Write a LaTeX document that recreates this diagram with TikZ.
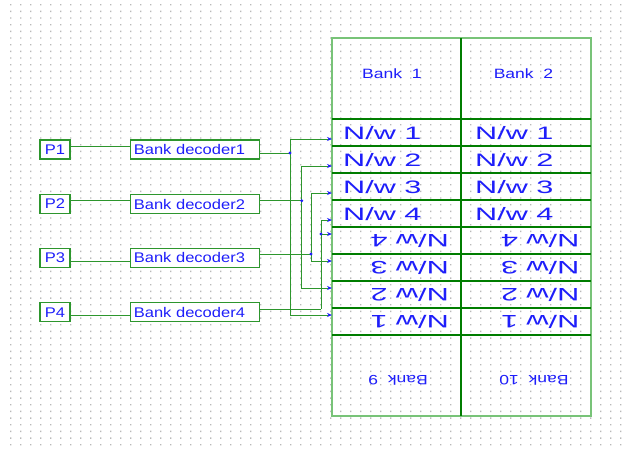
\documentclass[tikz,border=0pt]{standalone}
\usepackage{fontspec}
\setmainfont{Liberation Sans}
\newfontfamily\lblfont{Liberation Sans}[FakeStretch=1.18]
\newfontfamily\banklblfont{Liberation Sans}[FakeStretch=1.3]
\newfontfamily\nwfont{Liberation Sans}[FakeStretch=1.7]
\usetikzlibrary{arrows.meta}
\definecolor{txtblue}{RGB}{30,30,250}
\definecolor{wiregreen}{RGB}{45,150,45}
\definecolor{rowgreen}{RGB}{0,125,0}
\definecolor{edgegreen}{RGB}{120,195,120}
\definecolor{gridgray}{RGB}{185,185,185}
\begin{document}
\begin{tikzpicture}[x=1pt,y=-1pt,
  pbox/.style={draw=wiregreen,line width=1.3pt,fill=white,text=txtblue,font=\lblfont\fontsize{14}{14}\selectfont,minimum width=30pt,minimum height=19pt,inner sep=0pt},
  decbox/.style={draw=wiregreen,line width=1.3pt,fill=white,text=txtblue,font=\lblfont\fontsize{14}{14}\selectfont,text width=123pt,align=left,minimum height=19pt,inner sep=3pt},
  banklbl/.style={text=txtblue,font=\banklblfont\fontsize{13.5}{13.5}\selectfont,inner sep=0pt},
  nwup/.style={anchor=base west,inner sep=0pt,text=txtblue,font=\nwfont\fontsize{18}{18}\selectfont},
  nwdn/.style={nwup,rotate=180},
  wire/.style={draw=wiregreen,line width=1pt},
  feed/.style={-{Stealth[length=5pt,width=4pt,color=txtblue]}},
  joint/.style={circle,fill=txtblue,inner sep=0pt,minimum size=3.2pt}]
  \fill[white] (0,0) rectangle (626,450);
  \useasboundingbox (0,0) rectangle (626,450);
  \fill[gridgray] \foreach \i in {0,...,61}{\foreach \j in {0,...,66}{(10+10*\i,4+6.667*\j) rectangle ++(1.4,1.4)}};
  \draw[edgegreen,line width=1.2pt] (332,38) rectangle (591,416);
  \foreach \y in {119,146,...,335} \draw[rowgreen,line width=1.5pt] (332,\y) -- (591,\y);
  \draw[rowgreen,line width=1.5pt] (461,38) -- (461,416);
  \node[banklbl] (bk1) at (392,74){Bank~~1};
  \node[banklbl] (bk2) at (523.5,74){Bank~~2};
  \node[banklbl,rotate=180] (bk9) at (398,380.5){Bank~~9};
  \node[banklbl,rotate=180] (bk10) at (534,380.5){Bank~~10};
  \foreach \k in {1,...,4}{
    \node[nwup] (nwl\k) at (343,112+27*\k){N/w \k};
    \node[nwup] (nwr\k) at (475,112+27*\k){N/w \k};
    \node[nwdn] (nfl\k) at (449,342-27*\k){N/w \k};
    \node[nwdn] (nfr\k) at (579.5,342-27*\k){N/w \k};
  }
  \node[pbox] (p1) at (55,149.5){P1};
  \node[pbox] (p2) at (55,204){P2};
  \node[pbox] (p3) at (55,257.8){P3};
  \node[pbox] (p4) at (55,312.2){P4};
  \node[decbox] (dec1) at (195.3,149.5){Bank decoder1};
  \node[decbox] (dec2) at (195.3,204){Bank decoder2};
  \node[decbox] (dec3) at (195.3,257.8){Bank decoder3};
  \node[decbox] (dec4) at (195.3,312.2){Bank decoder4};
  \coordinate (r1) at (332,139);
  \coordinate (r2) at (332,166);
  \coordinate (r3) at (332,193);
  \coordinate (r4) at (332,220);
  \coordinate (r5) at (332,234);
  \coordinate (r6) at (332,261);
  \coordinate (r7) at (332,288);
  \coordinate (r8) at (332,315);
  \coordinate (j1) at (290,153);
  \coordinate (j2) at (301.7,200.7);
  \coordinate (j3) at (311,254);
  \coordinate (j4) at (321,309);
  \coordinate (k4) at (321,234);
  \draw[wire] ([yshift=3.5pt]p1.east) -- ([yshift=3.5pt]dec1.west);
  \draw[wire] ([yshift=3.3pt]p2.east) -- ([yshift=3.3pt]dec2.west);
  \draw[wire] ([yshift=-3.2pt]p3.east) -- ([yshift=-3.2pt]dec3.west);
  \draw[wire] ([yshift=-2.8pt]p4.east) -- ([yshift=-2.8pt]dec4.west);
  \draw[wire] ([yshift=-3.5pt]dec1.east) -- (j1);
  \draw[wire] ([yshift=3.3pt]dec2.east) -- (j2);
  \draw[wire] ([yshift=3.8pt]dec3.east) -- (j3);
  \draw[wire] ([yshift=3.2pt]dec4.east) -- (j4);
  \draw[wire,feed] (j1) |- (r1);
  \draw[wire,feed] (j1) |- (r8);
  \draw[wire,feed] (j2) |- (r2);
  \draw[wire,feed] (j2) |- (r7);
  \draw[wire,feed] (j3) |- (r3);
  \draw[wire,feed] (j3) |- (r6);
  \draw[wire,feed] (j4) |- (r4);
  \draw[wire,feed] (k4) -- (r5);
  \node[joint] at (j1){};
  \node[joint] at (j2){};
  \node[joint] at (j3){};
  \node[joint] at (k4){};
\end{tikzpicture}
\end{document}
